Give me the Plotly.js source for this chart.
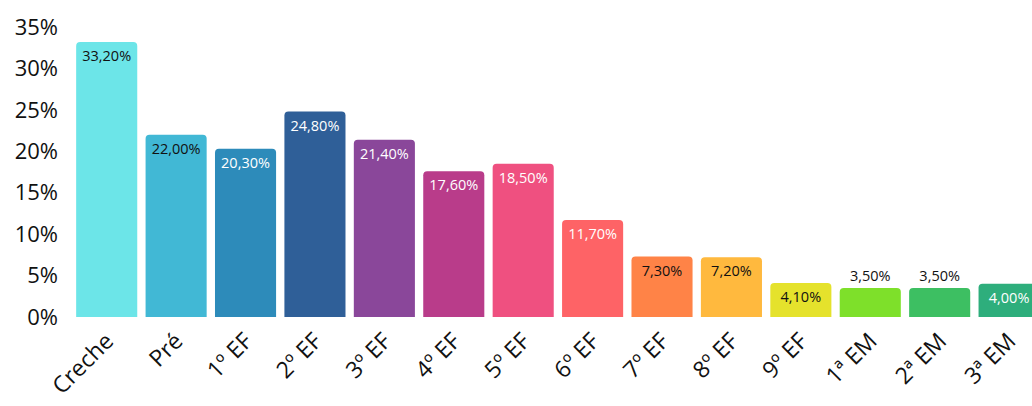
<!DOCTYPE html>
<html>
<head>
<meta charset="utf-8">
<script src="https://cdn.plot.ly/plotly-3.0.1.min.js"></script>
<style>html,body{margin:0;padding:0;background:#fff;}#chart{width:1032px;height:406px;}</style>
</head>
<body>
<div id="chart"></div>
<script>
const categories = ["Creche","Pré","1º EF","2º EF","3º EF","4º EF","5º EF","6º EF","7º EF","8º EF","9º EF","1ª EM","2ª EM","3ª EM"];
const values = [33.2, 22.0, 20.3, 24.8, 21.4, 17.6, 18.5, 11.7, 7.3, 7.2, 4.1, 3.5, 3.5, 4.0];
const barColors = ["#6ce5e8","#41b8d5","#2d8bba","#2f5f98","#8a479a","#b93c8a","#ef5080","#fe6366","#ff8347","#ffb93e","#e5e22c","#7ee02a","#3dbf62","#2eae7c"];
const textColors = ["#111","#111","#fff","#fff","#fff","#fff","#fff","#fff","#111","#111","#111","#111","#111","#fff"];
const textPositions = ["inside","inside","inside","inside","inside","inside","inside","inside","inside","inside","inside","outside","outside","inside"];
const yTicks = [0,5,10,15,20,25,30,35];

const labels = values.map(v => v.toFixed(2).replace('.', ',') + '%');
const FONT = '"Open Sans", "Noto Sans", sans-serif';

const trace = {
  type: 'bar',
  x: categories,
  y: values,
  text: labels,
  textposition: textPositions,
  insidetextanchor: 'end',
  textangle: 0,
  textfont: {family: FONT, size: 14.5, color: textColors},
  outsidetextfont: {family: FONT, size: 14.5, color: '#111'},
  constraintext: 'none',
  cliponaxis: true,
  marker: {color: barColors, cornerradius: 4},
  hoverinfo: 'none'
};

const layout = {
  width: 1032, height: 406,
  margin: {l: 72, r: 0, t: 27, b: 89},
  paper_bgcolor: '#fff', plot_bgcolor: '#fff',
  bargap: 0.12,
  showlegend: false,
  xaxis: {
    range: [-0.5, 13.33],
    tickangle: -45,
    showgrid: false, zeroline: false, showline: false,
    ticks: '',
    ticklabelstandoff: 5,
    tickfont: {family: FONT, size: 23, color: '#111'}
  },
  yaxis: {
    range: [0, 35],
    tickvals: yTicks,
    ticktext: yTicks.map(t => t + '%'),
    showgrid: false, zeroline: false, showline: false,
    ticks: '',
    ticklabelstandoff: 13,
    tickfont: {family: FONT, size: 22, color: '#111'}
  }
};

Plotly.newPlot('chart', [trace], layout, {displayModeBar: false, staticPlot: true});
</script>
</body>
</html>
